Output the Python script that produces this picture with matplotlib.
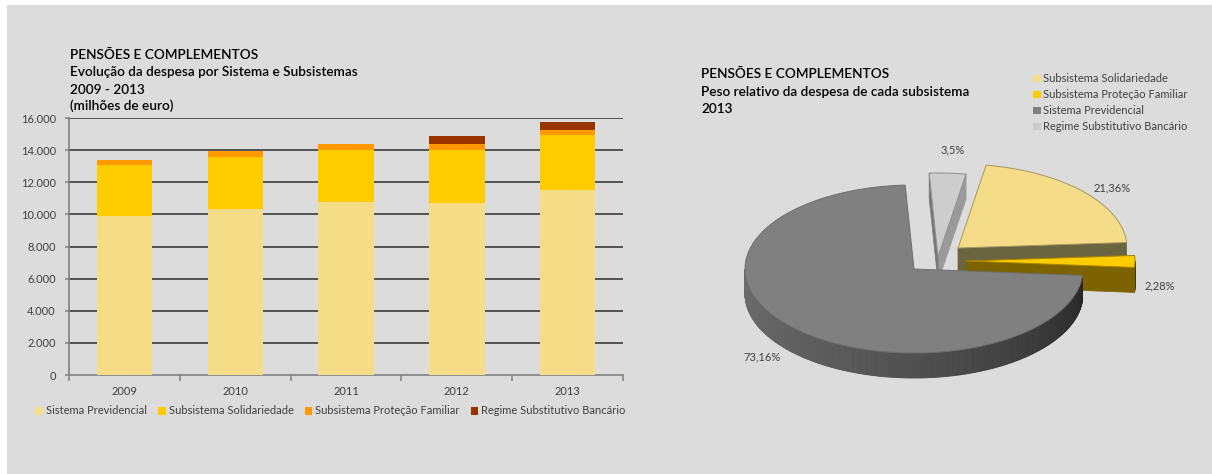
import matplotlib
matplotlib.use("Agg")
import matplotlib.pyplot as plt
import numpy as np
from matplotlib.patches import Polygon, Rectangle, Patch
from matplotlib.ticker import FuncFormatter, FixedLocator

plt.rcParams['font.family'] = ['Lato', 'DejaVu Sans']

# ---- data: yearly spending (millions of euro) ----
years = ['2009', '2010', '2011', '2012', '2013']
sistema_previdencial = [9920, 10340, 10790, 10730, 11540]
subsistema_solidariedade = [3150, 3260, 3240, 3260, 3390]
subsistema_protecao_familiar = [330, 350, 370, 390, 350]
regime_substitutivo_bancario = [0, 0, 0, 520, 500]
series_names = ['Sistema Previdencial', 'Subsistema Solidariedade',
                'Subsistema Proteção Familiar', 'Regime Substitutivo Bancário']

# ---- data: 2013 relative weight (%) ----
pie_names = ['Regime Substitutivo Bancário', 'Subsistema Solidariedade',
             'Subsistema Proteção Familiar', 'Sistema Previdencial']
pie_shares = [3.5, 21.36, 2.28, 73.16]
pie_legend_order = ['Subsistema Solidariedade', 'Subsistema Proteção Familiar',
                    'Sistema Previdencial', 'Regime Substitutivo Bancário']

# ---- styles ----
BAR_COLORS = ['#f5dc87', '#ffcc00', '#ff9900', '#993300']
PIE_TOP = {'Regime Substitutivo Bancário': '#cdcdcd',
           'Subsistema Solidariedade': '#f4dc88',
           'Subsistema Proteção Familiar': '#ffcc00',
           'Sistema Previdencial': '#808080'}
PIE_SIDE = {'Regime Substitutivo Bancário': '#9a9a9a',
            'Subsistema Solidariedade': '#6b6440',
            'Subsistema Proteção Familiar': '#7d6300',
            'Sistema Previdencial': '#5a5a5a'}
PIE_EDGE = {'Regime Substitutivo Bancário': '#8c8c8c',
            'Subsistema Solidariedade': '#a8985c',
            'Subsistema Proteção Familiar': '#a48400',
            'Sistema Previdencial': '#6e6e6e'}
PIE_LEGEND_COLORS = {'Regime Substitutivo Bancário': '#cccccc',
                     'Subsistema Solidariedade': '#f5dc87',
                     'Subsistema Proteção Familiar': '#ffcc00',
                     'Sistema Previdencial': '#7f7f7f'}
TEXT = '#404040'
FS = 8.0
TITLE_FS = 9.8

W, H = 1212, 474
fig = plt.figure(figsize=(W / 100, H / 100), dpi=100)
fig.patch.set_facecolor('white')
fig.patches.append(Rectangle((7 / W, 0), 1, 1 - 5 / H, transform=fig.transFigure,
                             facecolor='#dcdcdc', edgecolor='none', zorder=-10))


def fx(px):
    return px / W


def fy(py):
    return 1 - py / H


# ================= stacked bar chart =================
ax = fig.add_axes([fx(69), fy(375), fx(623) - fx(69), fy(118) - fy(375)])
ax.set_facecolor('none')
x = np.arange(len(years))
series = [sistema_previdencial, subsistema_solidariedade,
          subsistema_protecao_familiar, regime_substitutivo_bancario]
bottom = np.zeros(len(years))
for vals, col, name in zip(series, BAR_COLORS, series_names):
    ax.bar(x, vals, width=0.5, bottom=bottom, color=col, label=name,
           edgecolor='none', zorder=3)
    bottom += np.array(vals)

ax.set_xlim(-0.5, len(years) - 0.5)
ax.set_ylim(0, 16000)
ax.yaxis.set_major_locator(FixedLocator(np.arange(0, 16001, 2000)))
ax.yaxis.set_major_formatter(FuncFormatter(lambda v, p: f"{int(v):,}".replace(',', '.')))
for yv in np.arange(2000, 16001, 2000):
    ax.axhline(yv, color='#3c3c3c', lw=1.2, zorder=1)

ax.set_xticks(x)
ax.set_xticklabels(years)
ax.set_xticks(np.arange(-0.5, len(years)), minor=True)
ax.tick_params(axis='x', which='major', length=0, pad=8, labelsize=FS, labelcolor=TEXT)
ax.tick_params(axis='x', which='minor', length=4, width=1.1, color='#808080', direction='out')
ax.tick_params(axis='y', length=3, width=1.1, color='#808080', pad=6.5,
               labelsize=FS, labelcolor=TEXT)
for s in ['top', 'right']:
    ax.spines[s].set_visible(False)
for s in ['left', 'bottom']:
    ax.spines[s].set_color('#808080')
    ax.spines[s].set_linewidth(1.2)

handles = [Patch(facecolor=c, edgecolor='none') for c in BAR_COLORS]
fig.legend(handles, series_names, loc='center left', ncol=4,
           bbox_to_anchor=(fx(31), fy(411)), frameon=False, fontsize=FS,
           handlelength=0.7, handleheight=0.7, handletextpad=0.25,
           columnspacing=1.0, labelcolor=TEXT, borderaxespad=0)

bar_title = ['PENSÕES E COMPLEMENTOS', 'Evolução da despesa por Sistema e Subsistemas',
             '2009 - 2013', '(milhões de euro)']
for i, (line, yy) in enumerate(zip(bar_title, [55, 72.5, 89.5, 105.5])):
    fig.text(fx(70), fy(yy), line, fontsize=TITLE_FS,
             fontweight='semibold', color='black', va='center', ha='left')

# ================= 3D exploded pie =================
ax2 = fig.add_axes([0, 0, 1, 1])
ax2.set_xlim(0, W)
ax2.set_ylim(H, 0)
ax2.axis('off')
ax2.set_facecolor('none')

CX, CY, RX, RY, DEPTH = 914, 269, 169, 84, 25
START = 93.0
# per-slice displacement of the exploded slices (pixels)
explode_xy = [(24, -12), (44, -21), (52, -8), (0, 0)]

total = sum(pie_shares)
spans = [360.0 * s / total for s in pie_shares]
edges = START - np.concatenate([[0.0], np.cumsum(spans)])


def point(th_deg, ox, oy, dz=0.0):
    t = np.radians(th_deg)
    return (CX + ox + RX * np.cos(t), CY + oy - RY * np.sin(t) + dz)


def shade(color, t):
    rgb = np.array(matplotlib.colors.to_rgb(color))
    f = 0.84 - 0.55 * t ** 1.3
    return tuple(np.clip(rgb * f, 0, 1))


for i, name in enumerate(pie_names):
    hi, lo = edges[i], edges[i + 1]
    ox, oy = explode_xy[i]
    tip = (CX + ox, CY + oy)
    tipd = (CX + ox, CY + oy + DEPTH)

    # curved outer wall (front half only), shaded by angle
    ths = np.linspace(lo, hi, max(int(abs(hi - lo) * 2), 4))
    for a, b in zip(ths[:-1], ths[1:]):
        m = 0.5 * (a + b)
        if np.sin(np.radians(m)) < 0:
            phi = (m % 360 - 180) / 180.0
            c = shade(PIE_TOP[name], phi)
            quad = [point(a, ox, oy), point(b, ox, oy),
                    point(b, ox, oy, DEPTH), point(a, ox, oy, DEPTH)]
            ax2.add_patch(Polygon(quad, closed=True, facecolor=c, edgecolor=c,
                                  lw=0.6, zorder=2 + i))

    # radial faces that turn toward the viewer
    if np.cos(np.radians(lo)) > 0:
        e = point(lo, ox, oy)
        quad = [tip, e, (e[0], e[1] + DEPTH), tipd]
        ax2.add_patch(Polygon(quad, closed=True, facecolor=PIE_SIDE[name],
                              edgecolor=PIE_SIDE[name], lw=0.5, zorder=2 + i))
    if np.cos(np.radians(hi)) < 0:
        e = point(hi, ox, oy)
        quad = [tip, e, (e[0], e[1] + DEPTH), tipd]
        c = shade(PIE_SIDE[name], 0.2)
        ax2.add_patch(Polygon(quad, closed=True, facecolor=c, edgecolor=c,
                              lw=0.5, zorder=2 + i))

    # top face
    arc = [point(t, ox, oy) for t in np.linspace(hi, lo, 200)]
    ax2.add_patch(Polygon([tip] + arc, closed=True, facecolor=PIE_TOP[name],
                          edgecolor=PIE_EDGE[name], lw=0.7, zorder=2 + i,
                          joinstyle='round'))

# value labels
label_xy = {'Regime Substitutivo Bancário': (953, 150),
            'Subsistema Solidariedade': (1112, 188),
            'Subsistema Proteção Familiar': (1160, 286),
            'Sistema Previdencial': (762, 357)}
for name, val in zip(pie_names, pie_shares):
    lx, ly = label_xy[name]
    ax2.text(lx, ly, f"{val:g}".replace('.', ',') + '%', fontsize=FS,
             color=TEXT, ha='center', va='center', zorder=10)

pie_title = ['PENSÕES E COMPLEMENTOS', 'Peso relativo da despesa de cada subsistema', '2013']
for i, (line, yy) in enumerate(zip(pie_title, [74.5, 92, 109])):
    fig.text(fx(701), fy(yy), line, fontsize=TITLE_FS,
             fontweight='semibold', color='black', va='center', ha='left')

pie_handles = [Patch(facecolor=PIE_LEGEND_COLORS[n], edgecolor='none') for n in pie_legend_order]
fig.legend(pie_handles, pie_legend_order, loc='upper left',
           bbox_to_anchor=(fx(1029), fy(69)), frameon=False, fontsize=FS,
           handlelength=0.7, handleheight=0.7, handletextpad=0.15,
           labelspacing=0.45, labelcolor=TEXT, borderaxespad=0)

fig.savefig('out.png', dpi=100)
